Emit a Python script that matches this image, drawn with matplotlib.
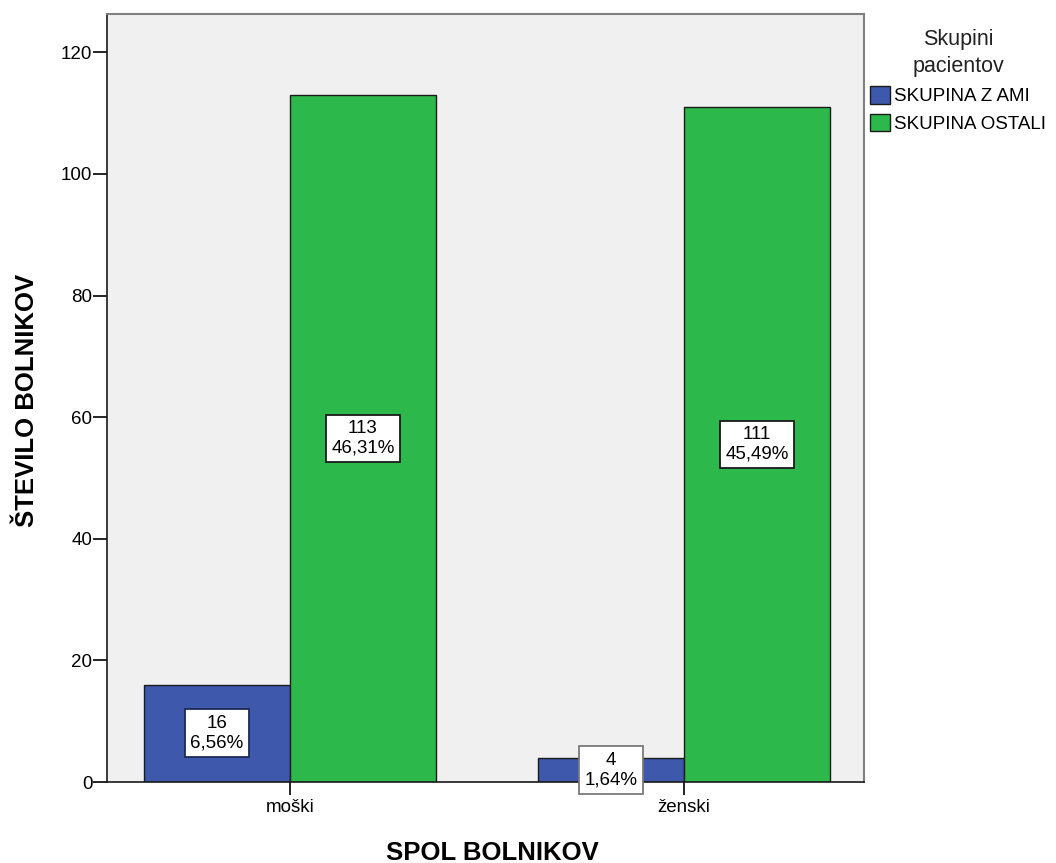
import numpy as np
import matplotlib
matplotlib.use('Agg')
import matplotlib.pyplot as plt

plt.rcParams['font.family'] = ['Liberation Sans', 'DejaVu Sans']

# patient counts by sex and group
categories = ['moški', 'ženski']
groups = ['SKUPINA Z AMI', 'SKUPINA OSTALI']
ami = [16, 4]
ostali = [113, 111]
colors = ['#3E58AC', '#2DB84B']
label_edges = [['#1c2a55', '#7a7a7a'], ['#1a1a1a', '#1a1a1a']]

total = sum(ami) + sum(ostali)

W, H = 1056, 863
fig = plt.figure(figsize=(W / 100, H / 100), dpi=100)
ax = fig.add_axes([107 / W, 1 - 782 / H, (864 - 107) / W, (782 - 14) / H])
ax.set_facecolor('#F0F0F0')

x = np.arange(len(categories))
width = 0.37
series = [ami, ostali]
for i, (vals, col, name) in enumerate(zip(series, colors, groups)):
    pos = x + (i - 0.5) * width
    ax.bar(pos, vals, width, color=col, edgecolor='#1a1a1a', linewidth=1.0, label=name, zorder=2)
    for j, (px, v) in enumerate(zip(pos, vals)):
        pct = f'{v / total * 100:.2f}%'.replace('.', ',')
        ax.text(px, v / 2, f'{v}\n{pct}', ha='center', va='center', fontsize=13.5,
                linespacing=1.2, zorder=4,
                bbox=dict(boxstyle='square,pad=0.3', facecolor='white',
                          edgecolor=label_edges[i][j], linewidth=1.3))

ax.set_xlim(-0.4645, 1.457)
ax.set_ylim(0, 126.3)
ax.set_yticks(range(0, 121, 20))
ax.set_xticks(x)
ax.set_xticklabels(categories)
ax.tick_params(axis='y', length=10, width=1.2, labelsize=13.5, pad=0.5)
ax.tick_params(axis='x', length=9.5, width=1.2, labelsize=13.5, pad=3)

for side in ['top', 'right']:
    ax.spines[side].set_color('#808080')
    ax.spines[side].set_linewidth(1.5)
for side in ['left', 'bottom']:
    ax.spines[side].set_color('#1a1a1a')
    ax.spines[side].set_linewidth(1.2)

ax.set_ylabel('ŠTEVILO BOLNIKOV', fontsize=18.5, fontweight='bold')
ax.yaxis.set_label_coords(27 / W, 1 - 400 / H, transform=fig.transFigure)
ax.yaxis.label.set_verticalalignment('center')
ax.set_xlabel('SPOL BOLNIKOV', fontsize=18.5, fontweight='bold')
ax.xaxis.set_label_coords(492 / W, 1 - 853 / H, transform=fig.transFigure)
ax.xaxis.label.set_verticalalignment('center')

leg = ax.legend(loc='upper left', bbox_to_anchor=(870 / W, 1 - 29 / H),
                bbox_transform=fig.transFigure, frameon=False,
                title='Skupini\npacientov', fontsize=13.5, title_fontsize=15.5,
                handlelength=1.05, handleheight=1.05, handletextpad=0.25,
                borderaxespad=0, borderpad=0, labelspacing=0.45)
leg._legend_box.align = 'center'
leg._legend_box.sep = 7
title = leg.get_title()
title.set_multialignment('center')
title.set_linespacing(1.35)
title.set_color('#222222')

fig.savefig('out.png', dpi=100)
